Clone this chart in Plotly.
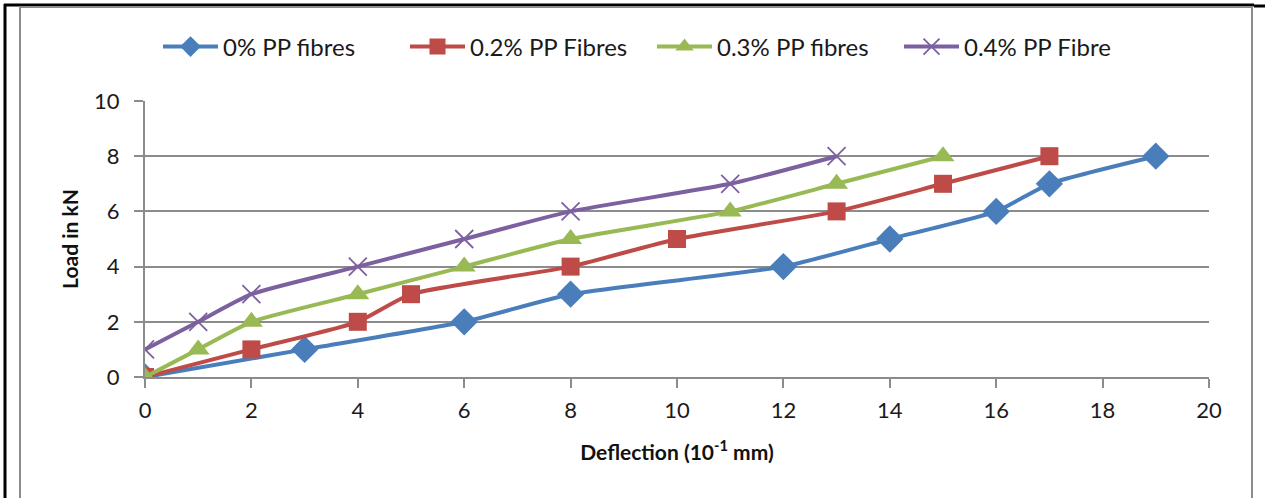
import plotly.graph_objects as go

x0 = [0, 3, 6, 8, 12, 14, 16, 17, 19]
y0 = [0, 1, 2, 3, 4, 5, 6, 7, 8]
x2 = [0, 2, 4, 5, 8, 10, 13, 15, 17]
y2 = [0, 1, 2, 3, 4, 5, 6, 7, 8]
x3 = [0, 1, 2, 4, 6, 8, 11, 13, 15]
y3 = [0, 1, 2, 3, 4, 5, 6, 7, 8]
x4 = [0, 1, 2, 4, 6, 8, 11, 13]
y4 = [1, 2, 3, 4, 5, 6, 7, 8]

names = ["0% PP fibres", "0.2% PP Fibres", "0.3% PP fibres", "0.4% PP Fibre"]
colors = ["#4A7EBB", "#BE4B48", "#98B954", "#7D60A0"]

fig = go.Figure()
series = [(x0, y0, "diamond", 21, None), (x2, y2, "square", 18, None),
          (x3, y3, "triangle-up", 20, None), (x4, y4, "x-thin-open", 18, 1.8)]
for (xs, ys, sym, sz, lw), nm, c in zip(series, names, colors):
    mk = dict(symbol=sym, size=sz, color=c)
    if lw:
        mk["line"] = dict(color=c, width=lw)
    fig.add_trace(go.Scatter(x=xs, y=ys, name=nm, mode="lines+markers",
                             line=dict(color=c, width=4, shape="spline", smoothing=0.5),
                             marker=mk))

L, R, T, B = 145, 56, 101, 121
W, H = 1265 - L - R, 498 - T - B
def px(v): return (v - L) / W
def py(v): return (498 - B - v) / H

shapes = [
    dict(type="line", xref="paper", yref="paper", x0=px(5), x1=px(5), y0=py(500), y1=py(4), line=dict(color="black", width=3)),
    dict(type="line", xref="paper", yref="paper", x0=px(4), x1=px(1254), y0=py(5), y1=py(5), line=dict(color="black", width=3)),
    dict(type="line", xref="paper", yref="paper", x0=px(1254), x1=px(1266), y0=py(6), y1=py(6), line=dict(color="black", width=3)),
    dict(type="rect", xref="paper", yref="paper", x0=px(20), x1=px(1252), y0=py(520), y1=py(7), line=dict(color="#8C8C8C", width=2)),
]

font = "Lato, 'Open Sans', sans-serif"
fig.update_layout(
    width=1265, height=498,
    margin=dict(l=L, r=R, t=T, b=B, autoexpand=False),
    paper_bgcolor="white", plot_bgcolor="white",
    font=dict(family=font, size=22, color="#1a1a1a"),
    shapes=shapes,
    legend=dict(orientation="h", x=px(158), xanchor="left", y=py(47), yanchor="middle",
                font=dict(size=24), itemwidth=55, entrywidth=177, entrywidthmode="pixels",
                tracegroupgap=0, bgcolor="rgba(0,0,0,0)"),
    xaxis=dict(range=[0, 20], dtick=2, showgrid=False, showline=True, linecolor="#8C8C8C", linewidth=2,
               ticks="outside", ticklen=9, tickcolor="#8C8C8C", tickwidth=2, zeroline=False,
               ticklabelstandoff=4,
               title=dict(text="<b>Deflection (10<sup>-1</sup> mm)</b>", font=dict(size=21, color="#111"), standoff=23),
               tickfont=dict(size=22)),
    yaxis=dict(range=[0, 10], dtick=2, showgrid=True, gridcolor="#8C8C8C", gridwidth=1.5,
               showline=True, linecolor="#8C8C8C", linewidth=2, ticks="outside", ticklen=9,
               tickcolor="#8C8C8C", tickwidth=2, zeroline=False, ticklabelstandoff=10,
               title=dict(text="<b>Load in kN</b>", font=dict(size=21, color="#111"), standoff=10),
               tickfont=dict(size=22)),
)
fig.write_html("out.html")
